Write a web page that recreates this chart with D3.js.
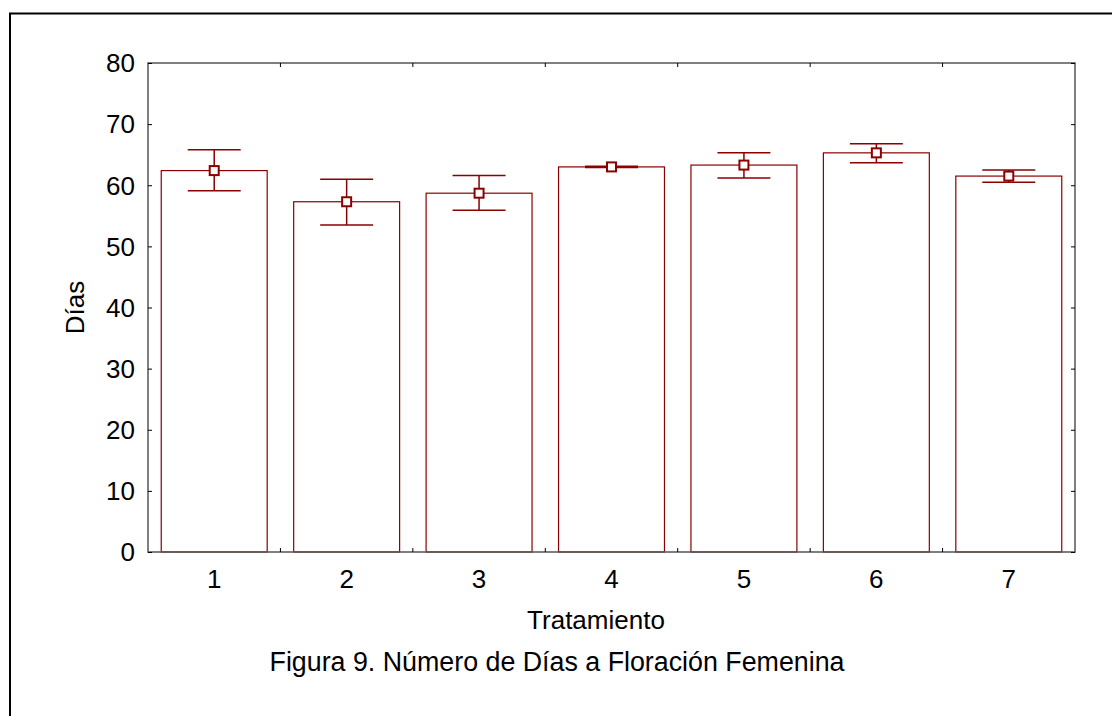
<!DOCTYPE html>
<html lang="es">
<head>
<meta charset="UTF-8">
<title>Figura 9</title>
<script src="https://cdnjs.cloudflare.com/ajax/libs/d3/7.8.5/d3.min.js"></script>
<style>
  body { margin: 0; background: #fff; }
  svg text { font-family: "Liberation Sans", Arial, sans-serif; fill: #000; font-size: 26px; }
</style>
</head>
<body>
<div id="chart"></div>
<script>
    // data
    var tratamientos = ["1", "2", "3", "4", "5", "6", "7"];
    var medias = [62.4, 57.3, 58.7, 63.0, 63.3, 65.3, 61.5];
    var errSup = [65.8, 61.0, 61.6, 63.1, 65.3, 66.8, 62.5];
    var errInf = [59.1, 53.5, 55.9, 62.9, 61.2, 63.7, 60.5];
    var yTicks = [0, 10, 20, 30, 40, 50, 60, 70, 80];

    var width = 1112, height = 716;
    var margin = {top: 63, right: 37, bottom: 164, left: 148};
    var red = "#8b0000";

    var svg = d3.select("#chart").append("svg")
        .attr("width", width)
        .attr("height", height);

    // outer frame of the figure (left and top only are visible)
    svg.append("path")
        .attr("d", "M10," + height + "V13.5H" + width)
        .attr("fill", "none")
        .attr("stroke", "#000")
        .attr("stroke-width", 2);

    var x = d3.scaleBand()
        .domain(tratamientos)
        .range([margin.left, width - margin.right])
        .paddingInner(0.2)
        .paddingOuter(0.1);

    var y = d3.scaleLinear()
        .domain([0, 80])
        .range([height - margin.bottom, margin.top]);

    var x0 = margin.left, x1 = width - margin.right;
    var y0 = height - margin.bottom, y1 = margin.top;

    // boundaries between categories
    var step = x.step();
    var bounds = d3.range(1, tratamientos.length).map(function (i) {
        return x0 + i * step;
    });

    // bars
    var g = svg.append("g");
    g.selectAll(".bar")
        .data(medias)
        .enter()
        .append("rect")
        .attr("class", "bar")
        .attr("x", function (d, i) { return x(tratamientos[i]); })
        .attr("y", function (d) { return y(d); })
        .attr("width", x.bandwidth())
        .attr("height", function (d) { return y(0) - y(d); })
        .attr("fill", "#fff")
        .attr("stroke", red)
        .attr("stroke-width", 1.2);

    // error bars
    var cx = function (i) { return x(tratamientos[i]) + x.bandwidth() / 2; };
    var cap = x.bandwidth() / 4;
    var eb = g.selectAll(".err")
        .data(medias)
        .enter()
        .append("g")
        .attr("class", "err")
        .attr("stroke", red)
        .attr("stroke-width", 1.5);

    eb.append("line")
        .attr("x1", function (d, i) { return cx(i); })
        .attr("x2", function (d, i) { return cx(i); })
        .attr("y1", function (d, i) { return y(errSup[i]); })
        .attr("y2", function (d, i) { return y(errInf[i]); });
    eb.append("line")
        .attr("x1", function (d, i) { return cx(i) - cap; })
        .attr("x2", function (d, i) { return cx(i) + cap; })
        .attr("y1", function (d, i) { return y(errSup[i]); })
        .attr("y2", function (d, i) { return y(errSup[i]); });
    eb.append("line")
        .attr("x1", function (d, i) { return cx(i) - cap; })
        .attr("x2", function (d, i) { return cx(i) + cap; })
        .attr("y1", function (d, i) { return y(errInf[i]); })
        .attr("y2", function (d, i) { return y(errInf[i]); });

    // mean markers
    g.selectAll(".mk")
        .data(medias)
        .enter()
        .append("rect")
        .attr("class", "mk")
        .attr("x", function (d, i) { return cx(i) - 4.5; })
        .attr("y", function (d) { return y(d) - 4.5; })
        .attr("width", 9)
        .attr("height", 9)
        .attr("fill", "#fff")
        .attr("stroke", red)
        .attr("stroke-width", 2);

    // plot frame
    svg.append("rect")
        .attr("x", x0)
        .attr("y", y1)
        .attr("width", x1 - x0)
        .attr("height", y0 - y1)
        .attr("fill", "none")
        .attr("stroke", "#555")
        .attr("stroke-width", 1.5);

    // y axes (inward ticks left and right)
    var yAxisL = svg.append("g")
        .attr("transform", "translate(" + x0 + ",0)")
        .call(d3.axisRight(y).tickValues(yTicks).tickSize(4).tickFormat(""));
    yAxisL.select(".domain").remove();
    var yAxisR = svg.append("g")
        .attr("transform", "translate(" + x1 + ",0)")
        .call(d3.axisLeft(y).tickValues(yTicks).tickSize(4).tickFormat(""));
    yAxisR.select(".domain").remove();
    svg.selectAll(".tick line").attr("stroke", "#000");

    // y labels
    svg.selectAll(".ylab")
        .data(yTicks)
        .enter()
        .append("text")
        .attr("class", "ylab")
        .attr("x", x0 - 13)
        .attr("y", function (d) { return y(d); })
        .attr("dy", "0.36em")
        .attr("text-anchor", "end")
        .text(function (d) { return d; });

    // x boundary ticks top and bottom
    svg.selectAll(".bt")
        .data(bounds)
        .enter()
        .append("line")
        .attr("x1", function (d) { return d; })
        .attr("x2", function (d) { return d; })
        .attr("y1", y0)
        .attr("y2", y0 - 4)
        .attr("stroke", "#000");
    svg.selectAll(".tt")
        .data(bounds)
        .enter()
        .append("line")
        .attr("x1", function (d) { return d; })
        .attr("x2", function (d) { return d; })
        .attr("y1", y1)
        .attr("y2", y1 + 4)
        .attr("stroke", "#000");

    // x labels
    svg.selectAll(".xlab")
        .data(tratamientos)
        .enter()
        .append("text")
        .attr("class", "xlab")
        .attr("x", function (d) { return x(d) + x.bandwidth() / 2; })
        .attr("y", y0 + 36)
        .attr("text-anchor", "middle")
        .text(function (d) { return d; });

    svg.append("text")
        .attr("x", 596)
        .attr("y", 629)
        .attr("text-anchor", "middle")
        .text("Tratamiento");

    svg.append("text")
        .attr("transform", "translate(84," + ((y0 + y1) / 2) + ") rotate(-90)")
        .attr("text-anchor", "middle")
        .text("Días");

    svg.append("text")
        .attr("x", 557)
        .attr("y", 671)
        .attr("text-anchor", "middle")
        .style("font-size", "26.8px")
        .text("Figura 9. Número de Días a Floración Femenina");
</script>
</body>
</html>
